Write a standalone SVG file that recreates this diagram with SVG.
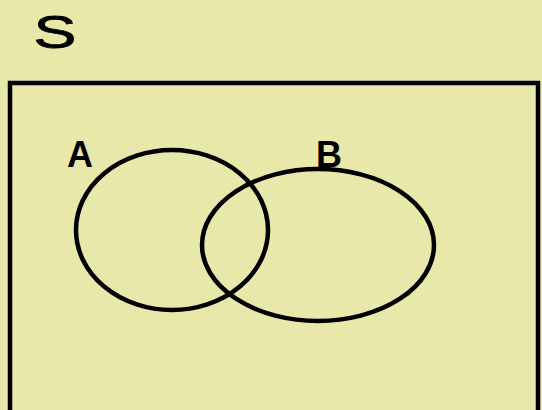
<svg xmlns="http://www.w3.org/2000/svg" width="542" height="410" viewBox="0 0 542 410">
<style>
.ln{fill:none;stroke:#000;stroke-width:4.5}
.lbl{font-family:"Liberation Sans",Arial,sans-serif;fill:#000;text-anchor:middle}
</style>
<rect x="0" y="0" width="542" height="410" fill="#e8e8aa"/>
<g id="S"><text class="lbl" x="0" y="0" font-size="46" stroke="#000" stroke-width="0.8" transform="translate(55,48) scale(1.4,1)">S</text></g>
<g id="universe"><rect class="ln" x="10" y="83" width="528" height="340" fill="#e8e9a9"/></g>
<g id="A">
<ellipse class="ln" cx="172" cy="230" rx="96" ry="80"/>
<text class="lbl" x="80" y="167" font-size="36" font-weight="bold">A</text>
</g>
<g id="B">
<ellipse class="ln" cx="318" cy="245" rx="116" ry="76"/>
<text class="lbl" x="329" y="167" font-size="36" font-weight="bold">B</text>
</g>
<g id="connectors"/>
</svg>
